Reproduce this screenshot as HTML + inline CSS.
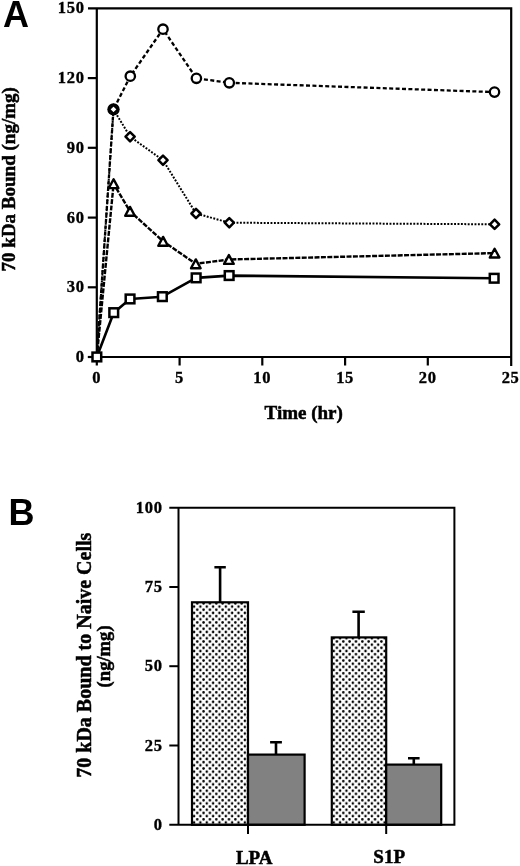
<!DOCTYPE html>
<html><head><meta charset="utf-8"><style>
html,body{margin:0;padding:0;background:#fff;}
svg{display:block;will-change:transform;}
.ax{stroke:#000;stroke-width:2.2;fill:none;}
.axb{stroke:#000;stroke-width:2;fill:none;}
.ln{fill:none;stroke:#000;stroke-linejoin:round;}
.lc{stroke-width:2.3;stroke-dasharray:4 2.4;}
.ld{stroke-width:2.0;stroke-dasharray:1.9 1.5;}
.lt{stroke-width:2.4;stroke-dasharray:5 1.4;}
.ls{stroke-width:2.6;}
.mk{fill:#fff;stroke:#000;stroke-width:2.3;}
.mkd{stroke-width:2.5;stroke-linejoin:round;}
.mkt{stroke-width:2.4;stroke-linejoin:round;}
.mks{stroke-width:2.5;}
.bar{stroke:#000;stroke-width:2.2;}
.eb{stroke:#000;stroke-width:2.6;fill:none;}
text{font-family:"Liberation Serif",serif;font-weight:bold;fill:#000;stroke:#000;stroke-width:0.35px;}
.tl{font-size:16.5px;letter-spacing:0.7px;}
.tt{font-size:19px;stroke-width:0.5px;}
.tb{font-size:20px;}
.tb2{font-size:18.6px;}
.pl{font-family:"Liberation Sans",sans-serif;font-size:36px;stroke:none;}
</style></head><body>
<svg width="520" height="866" viewBox="0 0 520 866">
<defs><pattern id="dots" patternUnits="userSpaceOnUse" x="200.4" y="606.6" width="6.35" height="6.35">
<circle cx="0" cy="0" r="1.25" fill="#000"/><circle cx="6.35" cy="0" r="1.25" fill="#000"/><circle cx="0" cy="6.35" r="1.25" fill="#000"/><circle cx="6.35" cy="6.35" r="1.25" fill="#000"/><circle cx="3.175" cy="3.175" r="1.25" fill="#000"/>
</pattern></defs>
<rect width="520" height="866" fill="#fff"/>
<path d="M88 8.3H511.2V366M96.8 8.3V357M96.8 357H511.2" class="ax"/>
<path d="M87.8 357.0H97" class="ax"/>
<path d="M87.8 287.3H97" class="ax"/>
<path d="M87.8 217.6H97" class="ax"/>
<path d="M87.8 147.8H97" class="ax"/>
<path d="M87.8 78.1H97" class="ax"/>
<path d="M96.8 357V365.5" class="ax"/>
<path d="M179.6 357V365.5" class="ax"/>
<path d="M262.3 357V365.5" class="ax"/>
<path d="M345.1 357V365.5" class="ax"/>
<path d="M427.8 357V365.5" class="ax"/>
<polyline points="96.8,357.0 113.5,109.4 130.3,76.2 163.0,29.2 196.4,78.3 229.3,82.8 494.5,92.1" class="ln lc"/>
<polyline points="96.8,357.0 113.5,109.4 130.1,136.7 163.0,160.2 196.0,213.5 229.3,222.7 494.6,224.3" class="ln ld"/>
<polyline points="96.8,357.0 113.6,183.7 130.0,211.3 163.1,241.3 195.8,263.8 228.9,259.5 494.6,253.1" class="ln lt"/>
<polyline points="96.8,357.0 113.7,312.7 130.0,299.0 162.3,296.7 196.1,277.9 229.2,275.6 494.2,278.3" class="ln ls"/>
<circle cx="113.5" cy="109.4" r="5.0" class="mk"/>
<circle cx="130.3" cy="76.2" r="4.7" class="mk"/>
<circle cx="163.0" cy="29.2" r="4.7" class="mk"/>
<circle cx="196.4" cy="78.3" r="4.7" class="mk"/>
<circle cx="229.3" cy="82.8" r="4.7" class="mk"/>
<circle cx="494.5" cy="92.1" r="4.7" class="mk"/>
<path d="M113.5 104.8L118.1 109.4L113.5 114.0L108.9 109.4Z" class="mk mkd"/>
<path d="M130.1 132.1L134.7 136.7L130.1 141.3L125.5 136.7Z" class="mk mkd"/>
<path d="M163.0 155.6L167.6 160.2L163.0 164.8L158.4 160.2Z" class="mk mkd"/>
<path d="M196.0 208.9L200.6 213.5L196.0 218.1L191.4 213.5Z" class="mk mkd"/>
<path d="M229.3 218.1L233.9 222.7L229.3 227.3L224.7 222.7Z" class="mk mkd"/>
<path d="M494.6 219.7L499.2 224.3L494.6 228.9L490.0 224.3Z" class="mk mkd"/>
<path d="M113.6 179.3L118.4 188.1L108.8 188.1Z" class="mk mkt"/>
<path d="M130.0 206.9L134.8 215.7L125.2 215.7Z" class="mk mkt"/>
<path d="M163.1 236.9L167.9 245.7L158.3 245.7Z" class="mk mkt"/>
<path d="M195.8 259.4L200.6 268.2L191.0 268.2Z" class="mk mkt"/>
<path d="M228.9 255.1L233.7 263.9L224.1 263.9Z" class="mk mkt"/>
<path d="M494.6 248.7L499.4 257.5L489.8 257.5Z" class="mk mkt"/>
<rect x="92.5" y="352.6" width="8.7" height="8.7" class="mk mks"/>
<rect x="109.4" y="308.3" width="8.7" height="8.7" class="mk mks"/>
<rect x="125.7" y="294.6" width="8.7" height="8.7" class="mk mks"/>
<rect x="158.0" y="292.3" width="8.7" height="8.7" class="mk mks"/>
<rect x="191.8" y="273.5" width="8.7" height="8.7" class="mk mks"/>
<rect x="224.8" y="271.2" width="8.7" height="8.7" class="mk mks"/>
<rect x="489.8" y="273.9" width="8.7" height="8.7" class="mk mks"/>
<text x="84.6" y="362.0" class="tl" text-anchor="end">0</text>
<text x="84.6" y="292.3" class="tl" text-anchor="end">30</text>
<text x="84.6" y="222.6" class="tl" text-anchor="end">60</text>
<text x="84.6" y="152.8" class="tl" text-anchor="end">90</text>
<text x="84.6" y="83.1" class="tl" text-anchor="end">120</text>
<text x="84.6" y="13.4" class="tl" text-anchor="end">150</text>
<text x="96.8" y="382.6" class="tl" text-anchor="middle">0</text>
<text x="179.6" y="382.6" class="tl" text-anchor="middle">5</text>
<text x="262.3" y="382.6" class="tl" text-anchor="middle">10</text>
<text x="345.1" y="382.6" class="tl" text-anchor="middle">15</text>
<text x="427.8" y="382.6" class="tl" text-anchor="middle">20</text>
<text x="510.6" y="382.6" class="tl" text-anchor="middle">25</text>
<text x="303.7" y="418.6" class="tt" text-anchor="middle">Time (hr)</text>
<text transform="translate(15.4,179.3) rotate(-90)" class="tt" text-anchor="middle">70 kDa Bound (ng/mg)</text>
<text x="3" y="27" class="pl">A</text>
<rect x="192" y="602.3" width="56" height="222.5" fill="url(#dots)" class="bar"/>
<rect x="248" y="754.6" width="56.6" height="70.2" fill="#818181" class="bar"/>
<rect x="331.8" y="637.4" width="54.4" height="187.4" fill="url(#dots)" class="bar"/>
<rect x="386.2" y="764.6" width="55" height="60.2" fill="#818181" class="bar"/>
<path d="M214.4 567.3H225.8M220.1 567.3V602.3" class="eb"/>
<path d="M270.1 742.3H281.9M276 742.3V754.6" class="eb"/>
<path d="M352.4 611.8H364.8M358.6 611.8V637.4" class="eb"/>
<path d="M408.0 758.2H419.6M413.8 758.2V764.6" class="eb"/>
<path d="M169.3 507.7H454.4V824.8H169.3M178.5 507.7V824.8" class="axb"/>
<path d="M169.3 745.5H178.5" class="axb"/>
<path d="M169.3 666.2H178.5" class="axb"/>
<path d="M169.3 587.0H178.5" class="axb"/>
<path d="M248 824.8V834M386.2 824.8V834" class="axb"/>
<text x="162.6" y="829.8" class="tl" text-anchor="end">0</text>
<text x="162.6" y="750.5" class="tl" text-anchor="end">25</text>
<text x="162.6" y="671.2" class="tl" text-anchor="end">50</text>
<text x="162.6" y="592.0" class="tl" text-anchor="end">75</text>
<text x="162.6" y="512.7" class="tl" text-anchor="end">100</text>
<text x="254.2" y="863.5" class="tt" text-anchor="middle">LPA</text>
<text x="389.2" y="863" class="tt" text-anchor="middle">S1P</text>
<text transform="translate(90.8,655.2) rotate(-90)" class="tt tb" text-anchor="middle">70 kDa Bound to Naive Cells</text>
<text transform="translate(110.4,656.4) rotate(-90)" class="tt tb2" text-anchor="middle">(ng/mg)</text>
<text x="8.6" y="525.2" class="pl">B</text>
</svg>
</body></html>
